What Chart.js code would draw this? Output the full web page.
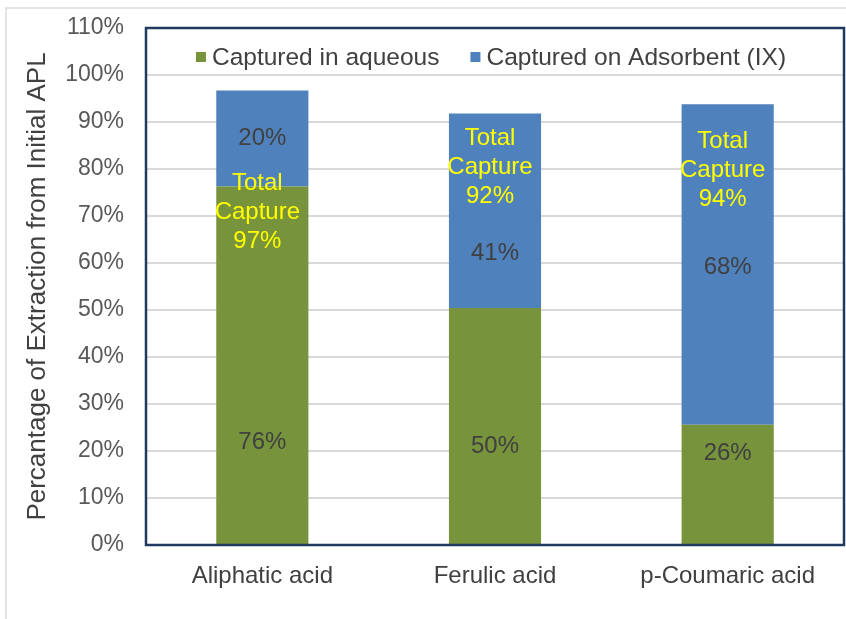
<!DOCTYPE html>
<html><head><meta charset="utf-8">
<script src="https://cdn.jsdelivr.net/npm/chart.js@4"></script>
<style>
html,body{margin:0;padding:0;background:#fff;}
#wrap{position:relative;width:846px;height:619px;overflow:hidden;}
#frame{position:absolute;left:5px;top:7px;width:900px;height:700px;border-left:2px solid #e4e4e4;border-top:2px solid #e4e4e4;}
canvas{position:absolute;left:0;top:0;}
</style></head><body>
<div id="wrap"><div id="frame"></div><canvas id="c" width="846" height="619"></canvas></div>
<script>
// ---- data ----
const categories = ['Aliphatic acid', 'Ferulic acid', 'p-Coumaric acid'];
const seriesNames = ['Captured in aqueous', 'Captured on Adsorbent (IX)'];
const capturedAqueous = [76.3, 50.4, 25.6];
const capturedAdsorbent = [20.4, 41.4, 68.2];
const yTickValues = [0, 10, 20, 30, 40, 50, 60, 70, 80, 90, 100, 110];
const yTickLabels = ['0%','10%','20%','30%','40%','50%','60%','70%','80%','90%','100%','110%'];
const yTitle = 'Percantage of Extraction from Initial APL';

const FONT = '"Liberation Sans", Arial, sans-serif';
const GREEN = '#77933C', BLUE = '#4F81BD';

const labelPlugin = {
  id: 'barLabels',
  afterDatasetsDraw(chart, args, opts) {
    const {ctx} = chart; const ys = chart.scales.y;
    ctx.save();
    ctx.font = '24px ' + FONT;
    ctx.textAlign = 'center'; ctx.textBaseline = 'middle';
    chart.data.datasets.forEach((ds, di) => {
      const meta = chart.getDatasetMeta(di);
      meta.data.forEach((bar, i) => {
        ctx.fillStyle = '#404040';
        ctx.fillText(Math.round(ds.data[i]) + '%', bar.x, ys.getPixelForValue(opts.anchors[di][i]));
      });
    });
    const meta0 = chart.getDatasetMeta(0);
    meta0.data.forEach((bar, i) => {
      const total = chart.data.datasets.reduce((s, ds) => s + ds.data[i], 0);
      const lines = ['Total', 'Capture', Math.round(total) + '%'];
      const cy = ys.getPixelForValue(opts.totalAnchors[i]);
      ctx.fillStyle = '#FFFF00';
      lines.forEach((t, k) => ctx.fillText(t, bar.x - 5, cy + (k - 1) * 29));
    });
    // legend inside plot area
    const ca = chart.chartArea;
    ctx.font = '24.5px ' + FONT;
    const box = 10, gap = 6, itemGap = 31;
    const items = chart.data.datasets.map(ds => ({t: ds.label, c: ds.backgroundColor, w: ctx.measureText(ds.label).width}));
    const totalW = items.reduce((s, it) => s + box + gap + it.w, 0) + itemGap * (items.length - 1);
    let x = (ca.left + ca.right) / 2 - 4 - totalW / 2;
    const cy = ca.top + 29;
    ctx.textAlign = 'left';
    items.forEach(it => {
      ctx.fillStyle = it.c; ctx.fillRect(x, cy - box / 2, box, box);
      x += box + gap;
      ctx.fillStyle = '#404040'; ctx.fillText(it.t, x, cy + 1);
      x += it.w + itemGap;
    });
    // plot border
    ctx.strokeStyle = '#1F3A5F'; ctx.lineWidth = 2.5;
    ctx.strokeRect(ca.left, ca.top, ca.right - ca.left, ca.bottom - ca.top);
    ctx.restore();
  }
};

new Chart(document.getElementById('c'), {
  type: 'bar',
  data: {
    labels: categories,
    datasets: [
      {label: seriesNames[0], data: capturedAqueous, backgroundColor: GREEN, barPercentage: 0.396, categoryPercentage: 1},
      {label: seriesNames[1], data: capturedAdsorbent, backgroundColor: BLUE, barPercentage: 0.396, categoryPercentage: 1}
    ]
  },
  options: {
    responsive: false, animation: false, devicePixelRatio: 1,
    layout: {padding: {left: 8, right: 2, top: 28, bottom: 0}},
    plugins: {
      legend: {display: false}, tooltip: {enabled: false},
      barLabels: {
        anchors: [[21.8, 21.0, 19.6], [86.6, 62.1, 59.1]],
        totalAnchors: [70.8, 80.3, 79.8]
      }
    },
    scales: {
      x: {
        stacked: true,
        grid: {display: false, drawTicks: false},
        border: {display: false},
        ticks: {font: {family: FONT, size: 24}, color: '#404040', padding: 17},
        afterFit(s) { s.height = 74; s.paddingLeft = 0; s.paddingRight = 0; }
      },
      y: {
        stacked: true, min: 0, max: 110,
        afterBuildTicks(s) { s.ticks = yTickValues.map(v => ({value: v})); },
        grid: {color: '#d9d9d9', lineWidth: 2, drawTicks: false},
        border: {display: false},
        ticks: {font: {family: FONT, size: 23}, color: '#595959', padding: 22,
          callback: (v) => yTickLabels[yTickValues.indexOf(v)]},
        title: {display: true, text: yTitle, font: {family: FONT, size: 26}, color: '#404040', padding: {top: 14, bottom: 0}},
        afterFit(s) { s.width = 138; s.paddingTop = 0; s.paddingBottom = 0; }
      }
    }
  },
  plugins: [labelPlugin]
});
</script>
</body></html>
